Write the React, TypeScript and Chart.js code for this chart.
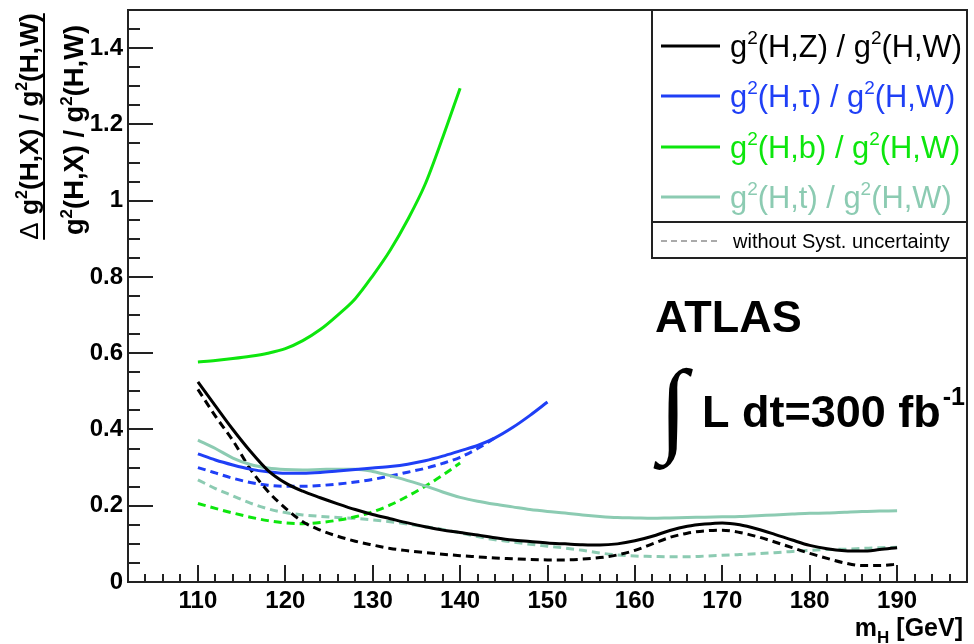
import React, { useEffect, useRef } from "react";
import { Chart, registerables } from "chart.js";

Chart.register(...registerables);

// ---------- data ----------
const massFull = [110, 112, 114, 116, 118, 120, 122, 124, 126, 128, 130, 132, 134, 136, 138, 140, 142, 144, 146, 148, 150, 152, 154, 156, 158, 160, 162, 164, 166, 168, 170, 172, 174, 176, 178, 180, 182, 184, 186, 188, 190];
const massTau = [110, 112, 114, 116, 118, 120, 122, 124, 126, 128, 130, 132, 134, 136, 138, 140, 142, 144, 146, 148, 150];
const massTauNoSyst = [110, 112, 114, 116, 118, 120, 122, 124, 126, 128, 130, 132, 134, 136, 138, 140, 142, 144];
const massB = [110, 112, 114, 116, 118, 120, 122, 124, 126, 128, 130, 132, 134, 136, 138, 140];

const zSyst = [0.525, 0.462, 0.400, 0.343, 0.293, 0.260, 0.238, 0.221, 0.205, 0.190, 0.177, 0.166, 0.155, 0.145, 0.136, 0.130, 0.123, 0.116, 0.110, 0.106, 0.102, 0.100, 0.098, 0.097, 0.100, 0.108, 0.120, 0.135, 0.146, 0.152, 0.155, 0.150, 0.139, 0.125, 0.110, 0.096, 0.087, 0.082, 0.081, 0.085, 0.090];
const zNoSyst = [0.505, 0.435, 0.371, 0.296, 0.238, 0.194, 0.158, 0.136, 0.120, 0.107, 0.097, 0.088, 0.082, 0.077, 0.073, 0.069, 0.066, 0.063, 0.061, 0.059, 0.058, 0.058, 0.060, 0.064, 0.071, 0.083, 0.100, 0.117, 0.128, 0.134, 0.136, 0.130, 0.119, 0.105, 0.090, 0.075, 0.062, 0.050, 0.043, 0.043, 0.047];
const tauSyst = [0.336, 0.320, 0.307, 0.296, 0.289, 0.285, 0.285, 0.287, 0.291, 0.295, 0.299, 0.303, 0.309, 0.318, 0.330, 0.344, 0.358, 0.378, 0.405, 0.437, 0.472];
const tauNoSyst = [0.300, 0.286, 0.272, 0.261, 0.254, 0.251, 0.251, 0.253, 0.257, 0.262, 0.269, 0.278, 0.288, 0.298, 0.311, 0.327, 0.350, 0.378];
const bSyst = [0.577, 0.581, 0.586, 0.592, 0.600, 0.612, 0.633, 0.662, 0.700, 0.743, 0.803, 0.870, 0.950, 1.043, 1.165, 1.295];
const bNoSyst = [0.206, 0.193, 0.181, 0.170, 0.161, 0.155, 0.153, 0.156, 0.162, 0.171, 0.184, 0.202, 0.225, 0.251, 0.280, 0.312];
const tSyst = [0.372, 0.350, 0.325, 0.308, 0.299, 0.295, 0.294, 0.295, 0.296, 0.296, 0.290, 0.279, 0.266, 0.252, 0.236, 0.222, 0.212, 0.204, 0.197, 0.190, 0.185, 0.181, 0.176, 0.172, 0.169, 0.168, 0.167, 0.168, 0.169, 0.170, 0.171, 0.172, 0.174, 0.176, 0.178, 0.180, 0.181, 0.183, 0.185, 0.186, 0.187];
const tNoSyst = [0.268, 0.245, 0.226, 0.207, 0.192, 0.182, 0.176, 0.172, 0.169, 0.167, 0.163, 0.158, 0.152, 0.145, 0.138, 0.129, 0.119, 0.111, 0.105, 0.099, 0.094, 0.089, 0.083, 0.076, 0.071, 0.068, 0.067, 0.066, 0.066, 0.068, 0.070, 0.072, 0.074, 0.077, 0.080, 0.083, 0.085, 0.086, 0.088, 0.090, 0.091];

const xTickValues = [110, 120, 130, 140, 150, 160, 170, 180, 190];
const yTickValues = [0, 0.2, 0.4, 0.6, 0.8, 1.0, 1.2, 1.4];
const xRange = [102, 198];
const yRange = [0, 1.5];
const xMinorStep = 2;
const yMinorStep = 0.05;

const legendChannels = ["Z", "τ", "b", "t"];
const noSystLabel = "without Syst. uncertainty";
const experimentLabel = "ATLAS";
const lumiLabel = "L dt=300 fb";
const lumiExp = "-1";

// ---------- styles ----------
const C_Z = "#000000";
const C_TAU = "#1f3ff6";
const C_B = "#0de60d";
const C_T = "#8ccbb2";
const SANS = '"Liberation Sans", Arial, sans-serif';
const SERIF = '"Liberation Serif", "DejaVu Serif", serif';

type Part = { t: string; sup?: boolean; sub?: boolean; font?: string };

function richWidth(ctx: CanvasRenderingContext2D, parts: Part[], big: string, small: string) {
  let w = 0;
  for (const p of parts) {
    ctx.font = p.font ? p.font : p.sup || p.sub ? small : big;
    w += ctx.measureText(p.t).width;
  }
  return w;
}

function drawRich(
  ctx: CanvasRenderingContext2D,
  parts: Part[],
  x: number,
  y: number,
  size: number,
  weight: string,
  align: "left" | "center" | "right",
  supRatio = 0.62
) {
  const big = `${weight} ${size}px ${SANS}`;
  const small = `${weight} ${Math.round(size * supRatio)}px ${SANS}`;
  const w = richWidth(ctx, parts, big, small);
  let cx = align === "right" ? x - w : align === "center" ? x - w / 2 : x;
  ctx.textAlign = "left";
  ctx.textBaseline = "alphabetic";
  for (const p of parts) {
    ctx.font = p.font ? p.font : p.sup || p.sub ? small : big;
    const yy = p.sup ? y - size * 0.42 : p.sub ? y + size * 0.28 : y;
    ctx.fillText(p.t, cx, yy);
    cx += ctx.measureText(p.t).width;
  }
  return w;
}

function fitSize(ctx: CanvasRenderingContext2D, parts: Part[], weight: string, target: number, base = 26) {
  const big = `${weight} ${base}px ${SANS}`;
  const small = `${weight} ${Math.round(base * 0.62)}px ${SANS}`;
  const w = richWidth(ctx, parts, big, small);
  return (base * target) / w;
}

const ratioParts = (ch: string): Part[] => [
  { t: "g" },
  { t: "2", sup: true },
  { t: `(H,${ch}) / g` },
  { t: "2", sup: true },
  { t: "(H,W)" },
];

const overlayPlugin = {
  id: "overlay",
  afterDraw(chart: any) {
    const { ctx, chartArea: a, scales } = chart;
    const xs = scales.x;
    const ys = scales.y;
    ctx.save();

    // ticks (inward)
    ctx.strokeStyle = "#222";
    ctx.lineWidth = 2;
    ctx.beginPath();
    const nY = Math.round((yRange[1] - yRange[0]) / yMinorStep);
    for (let i = 0; i <= nY; i++) {
      const v = yRange[0] + i * yMinorStep;
      const py = Math.round(ys.getPixelForValue(v));
      const major = i % 4 === 0;
      ctx.moveTo(a.left, py);
      ctx.lineTo(a.left + (major ? 25 : 12), py);
    }
    for (let v = xRange[0] + xMinorStep; v < xRange[1]; v += xMinorStep) {
      const px = Math.round(xs.getPixelForValue(v));
      const major = v % 10 === 0;
      ctx.moveTo(px, a.bottom);
      ctx.lineTo(px, a.bottom - (major ? 17 : 8));
    }
    ctx.stroke();

    // frame
    ctx.strokeRect(a.left, a.top, a.right - a.left, a.bottom - a.top);

    // legend box
    const lx = 652;
    const lTop = a.top;
    const lBottom = 258;
    const lDiv = 222;
    ctx.fillStyle = "#fff";
    ctx.fillRect(lx, lTop, a.right - lx, lBottom - lTop);
    ctx.strokeStyle = "#222";
    ctx.lineWidth = 2;
    ctx.strokeRect(lx, lTop, a.right - lx, lBottom - lTop);
    ctx.beginPath();
    ctx.moveTo(lx, lDiv);
    ctx.lineTo(a.right, lDiv);
    ctx.stroke();

    const legendColors = [C_Z, C_TAU, C_B, C_T];
    const legendY = [46, 96, 147, 197];
    const lsize = fitSize(ctx, ratioParts("Z"), "normal", 232);
    legendChannels.forEach((ch, i) => {
      const yy = legendY[i];
      ctx.strokeStyle = legendColors[i];
      ctx.lineWidth = 3;
      ctx.setLineDash([]);
      ctx.beginPath();
      ctx.moveTo(661, yy);
      ctx.lineTo(720, yy);
      ctx.stroke();
      ctx.fillStyle = legendColors[i];
      drawRich(ctx, ratioParts(ch), 730, yy + lsize * 0.36, lsize, "normal", "left");
    });
    ctx.strokeStyle = "#aaa";
    ctx.lineWidth = 2;
    ctx.setLineDash([6, 4]);
    ctx.beginPath();
    ctx.moveTo(661, 241);
    ctx.lineTo(720, 241);
    ctx.stroke();
    ctx.setLineDash([]);
    ctx.fillStyle = "#000";
    ctx.font = `20px ${SANS}`;
    ctx.textAlign = "left";
    ctx.textBaseline = "alphabetic";
    ctx.fillText(noSystLabel, 733, 248);

    // ATLAS
    ctx.font = `bold 45px ${SANS}`;
    ctx.fillText(experimentLabel, 655, 332);

    // integral
    ctx.font = `bold 100px ${SERIF}`;
    const m = ctx.measureText("∫");
    const gh = m.actualBoundingBoxAscent + m.actualBoundingBoxDescent;
    const isz = (103 / gh) * 100;
    ctx.font = `bold ${isz}px ${SERIF}`;
    const m2 = ctx.measureText("∫");
    ctx.fillText("∫", 653 + m2.actualBoundingBoxLeft, 367 + m2.actualBoundingBoxAscent);
    ctx.font = `bold 45px ${SANS}`;
    ctx.fillText(lumiLabel, 702, 427);
    const lw = ctx.measureText(lumiLabel).width;
    ctx.font = `bold 25px ${SANS}`;
    ctx.fillText(lumiExp, 702 + lw + 2, 405);

    // x title
    ctx.fillStyle = "#000";
    drawRich(
      ctx,
      [{ t: "m" }, { t: "H", sub: true }, { t: " [GeV]" }],
      963,
      636,
      25,
      "bold",
      "right",
      0.66
    );

    // y title (rotated fraction)
    ctx.save();
    ctx.rotate(-Math.PI / 2);
    const numParts: Part[] = [
      { t: "Δ", font: `normal 26px ${SANS}` },
      { t: " g" },
      { t: "2", sup: true },
      { t: "(H,X) / g" },
      { t: "2", sup: true },
      { t: "(H,W)" },
    ];
    const denParts: Part[] = ratioParts("X");
    const nsz = fitSize(ctx, numParts, "bold", 227);
    const dsz = fitSize(ctx, denParts, "bold", 210);
    // rotated frame: local x = -screenY, local y = screenX
    ctx.fillStyle = "#000";
    const nw = drawRich(ctx, numParts, -126.5, 38, nsz, "bold", "center");
    ctx.strokeStyle = "#000";
    ctx.lineWidth = 2;
    ctx.beginPath();
    ctx.moveTo(-126.5 - nw / 2, 44);
    ctx.lineTo(-126.5 + nw / 2, 44);
    ctx.stroke();
    drawRich(ctx, denParts, -130, 83, dsz, "bold", "center");
    ctx.restore();

    ctx.restore();
  },
};

export default function App() {
  const ref = useRef<HTMLCanvasElement | null>(null);

  useEffect(() => {
    if (!ref.current) return;
    const pts = (xs: number[], ys: number[]) => xs.map((x, i) => ({ x, y: ys[i] }));
    const solid = (data: any, color: string) => ({
      data,
      borderColor: color,
      borderWidth: 3,
      pointRadius: 0,
      fill: false,
      cubicInterpolationMode: "monotone" as const,
    });
    const dashed = (data: any, color: string) => ({
      ...solid(data, color),
      borderWidth: 3,
      borderDash: [8, 5],
    });
    const tickFont = { family: SANS, size: 24, weight: "bold" as const };
    const chart = new Chart(ref.current, {
      type: "line",
      data: {
        datasets: [
          solid(pts(massFull, zSyst), C_Z),
          solid(pts(massTau, tauSyst), C_TAU),
          solid(pts(massB, bSyst), C_B),
          solid(pts(massFull, tSyst), C_T),
          dashed(pts(massFull, zNoSyst), C_Z),
          dashed(pts(massTauNoSyst, tauNoSyst), C_TAU),
          dashed(pts(massB, bNoSyst), C_B),
          dashed(pts(massFull, tNoSyst), C_T),
        ] as any,
      },
      options: {
        responsive: false,
        animation: false,
        devicePixelRatio: 1,
        layout: { padding: { left: 0, top: 10, right: 7, bottom: 0 } },
        plugins: { legend: { display: false }, tooltip: { enabled: false } },
        scales: {
          x: {
            type: "linear",
            min: xRange[0],
            max: xRange[1],
            grid: { display: false, drawTicks: false },
            border: { display: false },
            afterBuildTicks: (s: any) => {
              s.ticks = xTickValues.map((v) => ({ value: v }));
            },
            afterFit: (s: any) => {
              s.height = 62;
              s.paddingLeft = 0;
              s.paddingRight = 0;
            },
            ticks: {
              font: tickFont,
              color: "#000",
              padding: 5,
              maxRotation: 0,
              autoSkip: false,
              callback: (v: any) => String(v),
            },
          },
          y: {
            type: "linear",
            min: yRange[0],
            max: yRange[1],
            grid: { display: false, drawTicks: false },
            border: { display: false },
            afterBuildTicks: (s: any) => {
              s.ticks = yTickValues.map((v) => ({ value: v }));
            },
            afterFit: (s: any) => {
              s.width = 128;
              s.paddingTop = 0;
              s.paddingBottom = 0;
            },
            ticks: {
              font: tickFont,
              color: "#000",
              padding: 5,
              autoSkip: false,
              callback: (v: any) => String(Number(Number(v).toFixed(1))),
            },
          },
        },
      },
      plugins: [overlayPlugin],
    });
    return () => chart.destroy();
  }, []);

  return (
    <div style={{ position: "absolute", left: 0, top: 0, width: 974, height: 644, background: "#fff" }}>
      <canvas ref={ref} width={974} height={644} style={{ display: "block", width: 974, height: 644 }} />
    </div>
  );
}
